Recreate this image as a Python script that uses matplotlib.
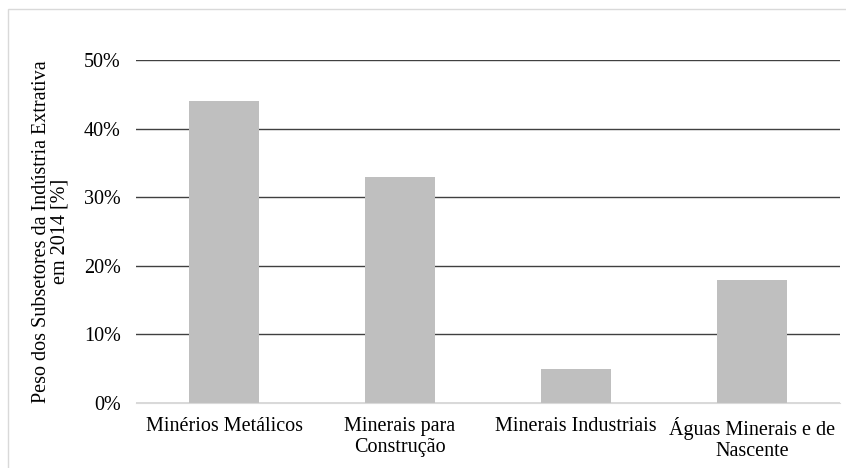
import matplotlib.pyplot as plt
from matplotlib.patches import Rectangle
from matplotlib.ticker import FuncFormatter

# Subsetores e respetivo peso (%)
subsetores = ['Minérios Metálicos', 'Minerais para\nConstrução',
              'Minerais Industriais', 'Águas Minerais e de\nNascente']
peso = [44, 33, 5, 18]

plt.rcParams['font.family'] = ['Liberation Serif', 'DejaVu Serif']

fig = plt.figure(figsize=(8.46, 4.68), dpi=100)
ax = fig.add_axes([136 / 846, 1 - 403 / 468, 704 / 846, 343 / 468])

ax.bar(range(len(peso)), peso, width=0.4, color='#bfbfbf', zorder=2)

ax.set_xlim(-0.5, len(peso) - 0.5)
ax.set_ylim(0, 50)
ax.set_yticks(range(0, 51, 10))
ax.yaxis.set_major_formatter(FuncFormatter(lambda v, p: '%d%%' % v))
ax.set_xticks(range(len(peso)))
ax.set_xticklabels(subsetores, fontsize=14.5, linespacing=1.15)
ax.tick_params(axis='y', labelsize=14.5, length=0, pad=11)
ax.tick_params(axis='x', length=0, pad=10)

ax.grid(axis='y', color='#404040', linewidth=1, zorder=1)
for s in ['top', 'right', 'left']:
    ax.spines[s].set_visible(False)
ax.spines['bottom'].set_color('#d9d9d9')
ax.spines['bottom'].set_zorder(3)

ax.set_ylabel('Peso dos Subsetores da Indústria Extrativa\nem 2014 [%]',
              fontsize=14.5, linespacing=1.0, labelpad=10)

# moldura à volta da figura (cortada à direita e em baixo)
fig.patches.append(Rectangle((8 / 846, -0.1), 1.1, 1 - 9 / 468 + 0.1,
                             transform=fig.transFigure, fill=False,
                             edgecolor='#d9d9d9', linewidth=1))

fig.savefig('out.png', dpi=100)
